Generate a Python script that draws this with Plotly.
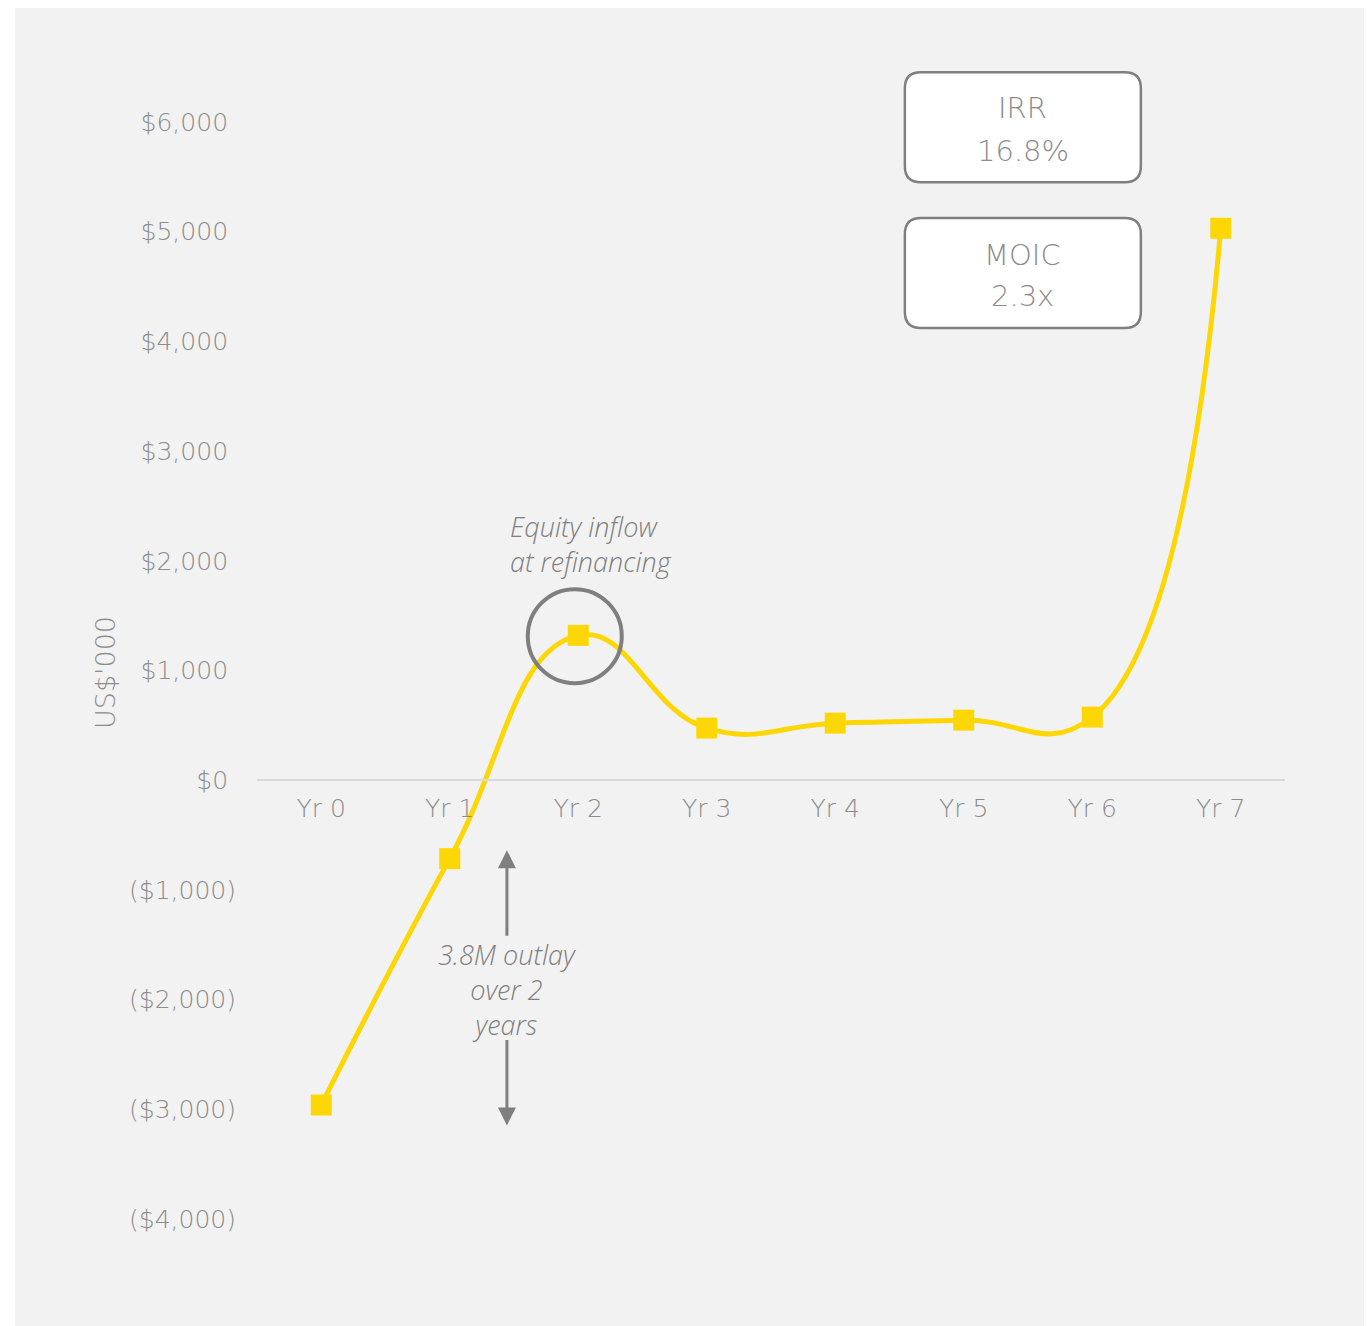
import plotly.graph_objects as go

# data (US$'000)
years = ["Yr 0", "Yr 1", "Yr 2", "Yr 3", "Yr 4", "Yr 5", "Yr 6", "Yr 7"]
cash_flow = [-2960, -715, 1320, 475, 520, 547, 575, 5030]

y_tickvals = [6000, 5000, 4000, 3000, 2000, 1000, 0, -1000, -2000, -3000, -4000]
y_ticktext = [
    "$6,000\u00a0", "$5,000\u00a0", "$4,000\u00a0", "$3,000\u00a0", "$2,000\u00a0",
    "$1,000\u00a0", "$0\u00a0", "($1,000)", "($2,000)", "($3,000)", "($4,000)",
]

FONT = "DejaVu Sans"
ITALIC_FONT = "Open Sans"
W = 200
GREY = "#8c8c8c"
DARK = "#7f7f7f"
YELLOW = "#FCD705"

Y_MIN, Y_MAX = -4400, 6600

fig = go.Figure()

fig.add_trace(
    go.Scatter(
        x=years,
        y=cash_flow,
        mode="lines+markers",
        line=dict(color=YELLOW, width=5, shape="spline", smoothing=1.3),
        marker=dict(symbol="square", size=21, color=YELLOW),
        cliponaxis=False,
        hoverinfo="skip",
    )
)


def rounded_box(w, h, r):
    # path in pixels around the anchor point
    x0, x1 = -w / 2, w / 2
    y0, y1 = -h / 2, h / 2
    return (
        f"M {x0 + r},{y0} L {x1 - r},{y0} Q {x1},{y0} {x1},{y0 + r} "
        f"L {x1},{y1 - r} Q {x1},{y1} {x1 - r},{y1} L {x0 + r},{y1} "
        f"Q {x0},{y1} {x0},{y1 - r} L {x0},{y0 + r} Q {x0},{y0} {x0 + r},{y0} Z"
    )


shapes = [
    # grey panel
    dict(
        type="rect", xref="paper", yref="paper",
        x0=-0.2354, x1=1.0807, y0=-0.0522, y1=1.0414,
        fillcolor="#f2f2f2", line=dict(width=0), layer="below",
    ),
    # circle round Yr 2
    dict(
        type="circle", xref="x", yref="y",
        xsizemode="pixel", ysizemode="pixel",
        xanchor=1.973, yanchor=1313,
        x0=-47, x1=47, y0=-47, y1=47,
        line=dict(color=DARK, width=4),
    ),
]
for yc in [5950, 4623]:
    shapes.append(
        dict(
            type="path", xref="x", yref="y",
            xsizemode="pixel", ysizemode="pixel",
            xanchor=5.46, yanchor=yc,
            path=rounded_box(236, 110, 16),
            fillcolor="white", line=dict(color=DARK, width=2.5),
        )
    )

box_text = [("IRR", 6127), ("16.8%", 5735), ("MOIC", 4787), ("2.3x", 4413)]

annotations = [
    dict(
        text="US$'000", textangle=-90, xref="paper", yref="paper",
        x=-0.1479, y=0.4896, xanchor="center", yanchor="middle", showarrow=False,
        font=dict(family=FONT, size=27, color=GREY, weight=W),
    ),
    dict(
        text="Equity inflow<br>at refinancing", x=1.452, y=2152,
        xanchor="left", align="left", showarrow=False,
        font=dict(family=ITALIC_FONT, size=27, color=DARK, weight=300,
                  style="italic"),
    ),
    dict(
        text="3.8M outlay<br>over 2<br>years", x=1.444, y=-1906,
        xanchor="center", align="center", showarrow=False,
        font=dict(family=ITALIC_FONT, size=27, color=DARK, weight=300,
                  style="italic"),
    ),
    # outlay arrows
    dict(
        x=1.445, y=-638, ax=1.445, ay=-1432, axref="x", ayref="y",
        text="", showarrow=True, arrowhead=2, arrowsize=1.2,
        arrowwidth=3, arrowcolor=DARK,
    ),
    dict(
        x=1.445, y=-3146, ax=1.445, ay=-2353, axref="x", ayref="y",
        text="", showarrow=True, arrowhead=2, arrowsize=1.2,
        arrowwidth=3, arrowcolor=DARK,
    ),
]
for label, yv in box_text:
    annotations.append(
        dict(
            text=label, x=5.46, y=yv, showarrow=False,
            font=dict(family=FONT, size=29, color=GREY, weight=W),
        )
    )

fig.update_layout(
    width=1372,
    height=1326,
    margin=dict(l=249, r=95, t=48, b=71),
    paper_bgcolor="white",
    plot_bgcolor="rgba(0,0,0,0)",
    showlegend=False,
    shapes=shapes,
    annotations=annotations,
    font=dict(family=FONT, color=GREY, weight=W),
    xaxis=dict(
        type="category",
        range=[-0.5, 7.5],
        anchor="free",
        position=(0 - Y_MIN) / (Y_MAX - Y_MIN),
        showline=True,
        linecolor="#d9d9d9",
        linewidth=2,
        showgrid=False,
        zeroline=False,
        ticks="",
        ticklabelstandoff=6,
        tickfont=dict(family=FONT, size=25, color=GREY, weight=W),
    ),
    yaxis=dict(
        range=[Y_MIN, Y_MAX],
        tickvals=y_tickvals,
        ticktext=y_ticktext,
        showgrid=False,
        zeroline=False,
        showline=False,
        ticks="",
        ticklabelstandoff=20,
        tickfont=dict(family=FONT, size=25, color=GREY, weight=W),
    ),
)

fig.write_html("out.html")
